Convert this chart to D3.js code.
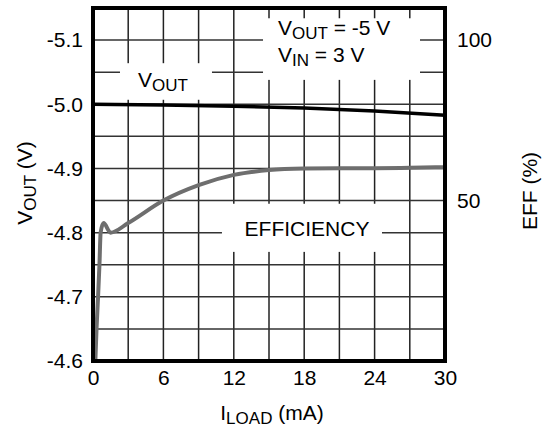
<!DOCTYPE html>
<html>
<head>
<meta charset="utf-8">
<script src="https://cdn.jsdelivr.net/npm/d3@7"></script>
<style>
  body { margin: 0; background: #fff; }
  text { font-family: "Liberation Sans", Arial, sans-serif; fill: #000; }
</style>
</head>
<body>
<div id="container"></div>
<script>
/* CONSTANTS AND GLOBALS */
const width = 543,
  height = 429,
  margin = { left: 93, top: 8, bottom: 68, right: 98 };
const FONT = "21px", SUB = "17px";

/* DATA */
const loadTicks = [0, 6, 12, 18, 24, 30];
const voutTicks = [-5.1, -5.0, -4.9, -4.8, -4.7, -4.6];
const effTicks = [50, 100];

// output voltage vs load current (mA, V)
const voutLoad = [0, 6, 12, 18, 24, 30];
const voutValues = [-5.0, -4.999, -4.997, -4.994, -4.9895, -4.983];

// efficiency vs load current (mA, %)
const effLoad = [0.2, 0.3, 0.43, 0.55, 0.65, 0.9, 1.5, 3, 6, 9, 12, 15, 18, 21, 24, 27, 30];
const effValues = [0, 10, 20, 30, 40, 43, 40, 43, 50, 54.8, 58, 59.5, 60, 60.1, 60.1, 60.2, 60.4];

const svg = d3.select("#container")
  .append("svg")
  .attr("width", width)
  .attr("height", height);

// SCALES
const xScale = d3.scaleLinear()
  .domain([0, 30])
  .range([margin.left, width - margin.right]);

const yScale = d3.scaleLinear()
  .domain([-5.15, -4.6])
  .range([margin.top, height - margin.bottom]);

const effScale = d3.scaleLinear()
  .domain([110, 0])
  .range([margin.top, height - margin.bottom]);

// GRID
const grid = svg.append("g");
grid.selectAll(".vgrid")
  .data(d3.range(3, 30, 3))
  .enter().append("line")
  .attr("x1", d => xScale(d)).attr("x2", d => xScale(d))
  .attr("y1", margin.top).attr("y2", height - margin.bottom)
  .attr("stroke", "#222").attr("stroke-width", 1.5);

grid.selectAll(".hgrid")
  .data(d3.range(1, 11).map(i => -5.15 + i * 0.05))
  .enter().append("line")
  .attr("x1", margin.left).attr("x2", width - margin.right)
  .attr("y1", d => yScale(d)).attr("y2", d => yScale(d))
  .attr("stroke", "#333").attr("stroke-width", 1.5);

// white label boxes that cut the grid
const boxes = [
  { x0: 2.3, x1: 10.14, y0: -5.064, y1: -5.007 },
  { x0: 14.49, x1: 27.87, y0: -5.134, y1: -5.038 },
  { x0: 10.99, x1: 24.63, y0: -4.845, y1: -4.77 }
];
svg.selectAll(".box")
  .data(boxes)
  .enter().append("rect")
  .attr("x", d => xScale(d.x0))
  .attr("y", d => yScale(d.y0))
  .attr("width", d => xScale(d.x1) - xScale(d.x0))
  .attr("height", d => yScale(d.y1) - yScale(d.y0))
  .attr("fill", "#fff");

// LINES
const voutLine = d3.line()
  .x(d => xScale(d[0]))
  .y(d => yScale(d[1]))
  .curve(d3.curveMonotoneX);

const effLine = d3.line()
  .x(d => xScale(d[0]))
  .y(d => effScale(d[1]))
  .curve(d3.curveMonotoneX);

svg.append("path")
  .attr("d", effLine(d3.zip(effLoad, effValues)))
  .attr("fill", "none")
  .attr("stroke", "#6e6e6e")
  .attr("stroke-width", 4);

svg.append("path")
  .attr("d", voutLine(d3.zip(voutLoad, voutValues)))
  .attr("fill", "none")
  .attr("stroke", "#000")
  .attr("stroke-width", 3.5);

// FRAME
svg.append("rect")
  .attr("x", margin.left).attr("y", margin.top)
  .attr("width", width - margin.left - margin.right)
  .attr("height", height - margin.top - margin.bottom)
  .attr("fill", "none")
  .attr("stroke", "#000")
  .attr("stroke-width", 4);

// AXES
const xAxis = d3.axisBottom(xScale).tickValues(loadTicks).tickSize(0).tickPadding(9);
const yAxis = d3.axisLeft(yScale).tickValues(voutTicks).tickSize(0).tickPadding(10)
  .tickFormat(d => d.toFixed(1));
const rAxis = d3.axisRight(effScale).tickValues(effTicks).tickSize(0).tickPadding(12);

function styleAxis(g) {
  g.select(".domain").remove();
  g.selectAll("text").style("font-size", FONT).style("font-family", '"Liberation Sans", Arial, sans-serif');
}

svg.append("g")
  .attr("transform", `translate(0, ${height - margin.bottom})`)
  .call(xAxis).call(styleAxis);

svg.append("g")
  .attr("transform", `translate(${margin.left}, 0)`)
  .call(yAxis).call(styleAxis);

svg.append("g")
  .attr("transform", `translate(${width - margin.right}, 0)`)
  .call(rAxis).call(styleAxis);

// text with a subscript part
function subText(sel, main, sub, rest) {
  sel.append("tspan").style("font-size", FONT).text(main);
  sel.append("tspan").style("font-size", SUB).attr("dy", 4).text(sub);
  if (rest) sel.append("tspan").style("font-size", FONT).attr("dy", -4).text(rest);
  return sel;
}

// TITLES
subText(svg.append("text")
  .attr("x", 272).attr("y", 420)
  .attr("text-anchor", "middle"), "I", "LOAD", " (mA)");

subText(svg.append("text")
  .attr("transform", "translate(32, 183) rotate(-90)")
  .attr("text-anchor", "middle"), "V", "OUT", " (V)");

svg.append("text")
  .attr("transform", "translate(537, 191) rotate(-90)")
  .attr("text-anchor", "middle")
  .style("font-size", FONT)
  .text("EFF (%)");

// LABELS
subText(svg.append("text")
  .attr("x", 163).attr("y", 87)
  .attr("text-anchor", "middle"), "V", "OUT");

subText(svg.append("text")
  .attr("x", 278).attr("y", 35), "V", "OUT", " = -5 V");

subText(svg.append("text")
  .attr("x", 278).attr("y", 62), "V", "IN", " = 3 V");

svg.append("text")
  .attr("x", 307).attr("y", 236)
  .attr("text-anchor", "middle")
  .style("font-size", FONT)
  .text("EFFICIENCY");
</script>
</body>
</html>
